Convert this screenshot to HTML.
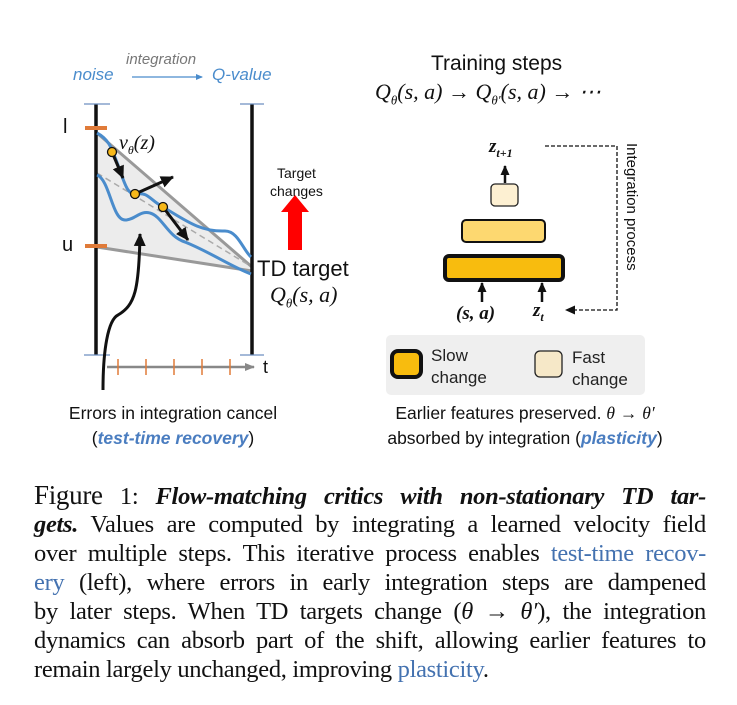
<!DOCTYPE html>
<html><head><meta charset="utf-8"><style>
body{margin:0;background:#fff;width:737px;height:705px;position:relative;overflow:hidden}
.t{position:absolute;white-space:nowrap;font-family:"Liberation Sans",sans-serif;color:#111}
.cap{position:absolute;left:34px;width:672px;font-family:"Liberation Serif",serif;font-size:24.5px;letter-spacing:-0.3px;color:#111;white-space:nowrap;text-align:justify;text-align-last:justify;line-height:29px}
.b{color:#4472b0}
.m{font-family:"Liberation Serif",serif;font-style:italic}
</style></head><body>
<svg width="737" height="705" style="position:absolute;left:0;top:0">
<defs>
<marker id="ab" markerUnits="userSpaceOnUse" markerWidth="14" markerHeight="14" refX="12" refY="7" orient="auto"><path d="M0,1 L13,7 L0,13z" fill="#111"/></marker>
<marker id="as" markerUnits="userSpaceOnUse" markerWidth="10" markerHeight="10" refX="9" refY="5" orient="auto"><path d="M0,0.5 L10,5 L0,9.5z" fill="#111"/></marker>
<marker id="ag" markerUnits="userSpaceOnUse" markerWidth="10" markerHeight="10" refX="9" refY="5" orient="auto"><path d="M0,1 L10,5 L0,9z" fill="#888"/></marker>
<marker id="abl" markerUnits="userSpaceOnUse" markerWidth="7" markerHeight="7" refX="6" refY="3.5" orient="auto"><path d="M0,0.5 L7,3.5 L0,6.5z" fill="#4a8ccc"/></marker>
</defs>
<line x1="132" y1="77" x2="202" y2="77" stroke="#4a8ccc" stroke-width="1.3" marker-end="url(#abl)"/>
<polygon points="97,133 252,267 252,272 97,247" fill="#ececec"/>
<line x1="97" y1="133" x2="252" y2="267" stroke="#999" stroke-width="3"/>
<line x1="97" y1="247" x2="252" y2="271" stroke="#999" stroke-width="3"/>
<line x1="97" y1="173" x2="252" y2="267" stroke="#aaa" stroke-width="1.5" stroke-dasharray="6,4"/>
<line x1="96" y1="104" x2="96" y2="355" stroke="#111" stroke-width="3.5"/>
<line x1="252" y1="104" x2="252" y2="355" stroke="#111" stroke-width="3.5"/>
<g stroke="#6d8fc0" stroke-width="1.2">
<line x1="84" y1="104" x2="110" y2="104"/><line x1="84" y1="355" x2="110" y2="355"/>
<line x1="240" y1="104" x2="264" y2="104"/><line x1="240" y1="355" x2="264" y2="355"/></g>
<line x1="85" y1="128" x2="107" y2="128" stroke="#e07b39" stroke-width="4"/>
<line x1="85" y1="246" x2="107" y2="246" stroke="#e07b39" stroke-width="4"/>
<path d="M97,133 C110,140 112,150 118,165 C125,185 128,196 137,194 C148,192 150,200 163,207 C185,220 200,232 225,231 C238,231 243,250 251,257" fill="none" stroke="#4a8ccc" stroke-width="3"/>
<path d="M97,175 C110,180 112,220 125,220 C135,220 140,210 150,213 C162,216 168,237 185,242 C210,252 230,266 251,274" fill="none" stroke="#4a8ccc" stroke-width="3"/>
<line x1="112" y1="152" x2="123" y2="178" stroke="#111" stroke-width="3" marker-end="url(#ab)"/>
<line x1="135" y1="194" x2="173" y2="177" stroke="#111" stroke-width="3" marker-end="url(#ab)"/>
<line x1="163" y1="207" x2="188" y2="240" stroke="#111" stroke-width="3" marker-end="url(#ab)"/>
<g fill="#f6b81a" stroke="#111" stroke-width="1.3">
<circle cx="112" cy="152" r="4.5"/><circle cx="135" cy="194" r="4.5"/><circle cx="163" cy="207" r="4.5"/></g>
<path d="M103,390 C103,350 108,320 118,315 C135,305 139,290 140,234" fill="none" stroke="#111" stroke-width="3" marker-end="url(#ab)"/>
<line x1="107" y1="367" x2="254" y2="367" stroke="#888" stroke-width="2.5" marker-end="url(#ag)"/>
<g stroke="#e07b39" stroke-width="1.5">
<line x1="118" y1="359" x2="118" y2="375"/><line x1="146" y1="359" x2="146" y2="375"/><line x1="174" y1="359" x2="174" y2="375"/><line x1="202" y1="359" x2="202" y2="375"/><line x1="230" y1="359" x2="230" y2="375"/></g>
<polygon points="295,195 281,212 288,212 288,250 302,250 302,212 309,212" fill="#f00"/>
<line x1="505" y1="183" x2="505" y2="166" stroke="#111" stroke-width="2.5" marker-end="url(#as)"/>
<rect x="491" y="184" width="27" height="22" rx="4" fill="#fdf0d2" stroke="#222" stroke-width="1.3"/>
<rect x="462" y="220" width="83" height="22" rx="4" fill="#fdd870" stroke="#111" stroke-width="2"/>
<rect x="445" y="256" width="118" height="24" rx="4" fill="#f8bc0e" stroke="#111" stroke-width="4"/>
<line x1="482" y1="302" x2="482" y2="283" stroke="#111" stroke-width="2.5" marker-end="url(#as)"/>
<line x1="542" y1="302" x2="542" y2="283" stroke="#111" stroke-width="2.5" marker-end="url(#as)"/>
<polyline points="545,146 617,146 617,310 566,310" fill="none" stroke="#111" stroke-width="1.3" stroke-dasharray="4,2" marker-end="url(#as)"/>
<rect x="386" y="335" width="259" height="60" rx="5" fill="#efefef"/>
<rect x="392" y="351" width="29" height="26" rx="6" fill="#f8bc0e" stroke="#111" stroke-width="4"/>
<rect x="535" y="351" width="27" height="26" rx="5" fill="#f6e8c8" stroke="#222" stroke-width="1.3"/>
</svg>
<div class="t" style="left:73px;top:65px;font-size:17px;font-style:italic;color:#4a8ccc">noise</div>
<div class="t" style="left:126px;top:51px;font-size:15px;font-style:italic;color:#777">integration</div>
<div class="t" style="left:212px;top:65px;font-size:17px;font-style:italic;color:#4a8ccc">Q-value</div>
<div class="t" style="left:63px;top:116px;font-size:20px">l</div>
<div class="t" style="left:62px;top:234px;font-size:20px">u</div>
<div class="t m" style="left:119px;top:132px;font-size:20px">v<sub style="font-size:12px">θ</sub>(z)</div>
<div class="t" style="left:270px;top:164px;font-size:14px;text-align:center;line-height:18px">Target<br>changes</div>
<div class="t" style="left:257px;top:256px;font-size:22px">TD target</div>
<div class="t m" style="left:270px;top:282px;font-size:22px">Q<sub style="font-size:13px">θ</sub>(s, a)</div>
<div class="t" style="left:263px;top:357px;font-size:18px">t</div>
<div class="t" style="left:431px;top:52px;font-size:21px">Training steps</div>
<div class="t m" style="left:375px;top:79px;font-size:22px">Q<sub style="font-size:13px">θ</sub>(s, a) → Q<sub style="font-size:13px">θ′</sub>(s, a) → ⋯</div>
<div class="t m" style="left:489px;top:136px;font-size:19px;font-weight:bold">z<sub style="font-size:12px">t+1</sub></div>
<div class="t m" style="left:456px;top:303px;font-size:19px;font-weight:bold">(s, a)</div>
<div class="t m" style="left:533px;top:300px;font-size:19px;font-weight:bold">z<sub style="font-size:12px">t</sub></div>
<div class="t" style="left:623px;top:143px;font-size:15px;writing-mode:vertical-rl">Integration process</div>
<div class="t" style="left:431px;top:345px;font-size:17px;line-height:22px;color:#222">Slow<br>change</div>
<div class="t" style="left:572px;top:347px;font-size:17px;line-height:22px;color:#222">Fast<br>change</div>
<div class="t" style="left:32px;top:401px;width:282px;text-align:center;font-size:17.5px;line-height:25px">Errors in integration cancel<br>(<b><i style="color:#4a7dc0">test-time recovery</i></b>)</div>
<div class="t" style="left:340px;top:401px;width:370px;text-align:center;font-size:17.5px;line-height:25px">Earlier features preserved. <span class="m">θ</span> → <span class="m">θ′</span><br>absorbed by integration (<b><i style="color:#4a7dc0">plasticity</i></b>)</div>
<div class="cap" style="top:481px"><span style="font-size:27px">Figure</span> 1: <b><i>Flow-matching critics with non-stationary TD tar-</i></b></div>
<div class="cap" style="top:510px"><b><i>gets.</i></b> Values are computed by integrating a learned velocity field</div>
<div class="cap" style="top:539px">over multiple steps. This iterative process enables <span class="b">test-time recov-</span></div>
<div class="cap" style="top:568px"><span class="b">ery</span> (left), where errors in early integration steps are dampened</div>
<div class="cap" style="top:597px">by later steps. When TD targets change (<i>θ</i> → <i>θ′</i>), the integration</div>
<div class="cap" style="top:626px">dynamics can absorb part of the shift, allowing earlier features to</div>
<div class="cap" style="top:655px;text-align-last:left">remain largely unchanged, improving <span class="b">plasticity</span>.</div>
</body></html>
